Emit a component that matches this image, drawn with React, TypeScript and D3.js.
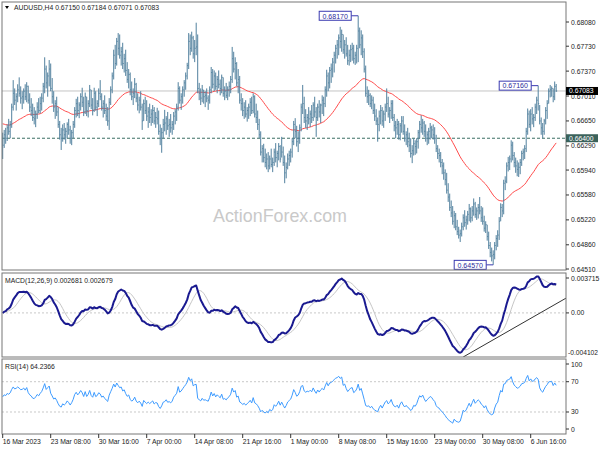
import React from 'react';
import * as d3 from 'd3';

// ---- data ----
const symbolTitle = 'AUDUSD,H4';
const lastOHLC = ['0.67150', '0.67184', '0.67071', '0.67083'];

const highs = [
  0.6648,0.6652,0.6655,0.6660,0.6668,0.6665,0.6690,0.6724,0.6712,0.6705,
  0.6718,0.6728,0.6715,0.6708,0.6712,0.6718,0.6721,0.6716,0.6705,0.6698,
  0.6690,0.6685,0.6680,0.6692,0.6698,0.6700,0.6705,0.6720,0.6757,0.6745,
  0.6735,0.6753,0.6748,0.6727,0.6708,0.6695,0.6700,0.6685,0.6665,0.6655,
  0.6660,0.6662,0.6655,0.6663,0.6668,0.6658,0.6652,0.6665,0.6685,0.6697,
  0.6700,0.6692,0.6705,0.6713,0.6700,0.6706,0.6700,0.6695,0.6717,0.6710,
  0.6698,0.6713,0.6708,0.6695,0.6712,0.6724,0.6705,0.6695,0.6702,0.6690,
  0.6685,0.6698,0.6715,0.6735,0.6768,0.6775,0.6785,0.6792,0.6790,0.6772,
  0.6778,0.6762,0.6768,0.6750,0.6740,0.6735,0.6722,0.6712,0.6727,0.6720,
  0.6705,0.6700,0.6708,0.6690,0.6696,0.6700,0.6695,0.6685,0.6690,0.6682,
  0.6688,0.6685,0.6678,0.6684,0.6680,0.6660,0.6655,0.6668,0.6681,0.6672,
  0.6678,0.6668,0.6675,0.6665,0.6678,0.6682,0.6690,0.6721,0.6715,0.6705,
  0.6715,0.6724,0.6735,0.6749,0.6792,0.6790,0.6794,0.6788,0.6782,0.6807,
  0.6790,0.6720,0.6712,0.6717,0.6710,0.6708,0.6712,0.6702,0.6715,0.6743,
  0.6740,0.6738,0.6735,0.6730,0.6738,0.6725,0.6732,0.6728,0.6715,0.6720,
  0.6715,0.6722,0.6730,0.6772,0.6765,0.6757,0.6750,0.6740,0.6730,0.6705,
  0.6698,0.6692,0.6695,0.6685,0.6690,0.6698,0.6700,0.6705,0.6702,0.6690,
  0.6680,0.6668,0.6650,0.6630,0.6632,0.6625,0.6618,0.6620,0.6615,0.6625,
  0.6612,0.6625,0.6633,0.6622,0.6633,0.6630,0.6642,0.6628,0.6615,0.6605,
  0.6618,0.6622,0.6625,0.6640,0.6665,0.6669,0.6658,0.6650,0.6660,0.6690,
  0.6717,0.6700,0.6682,0.6675,0.6685,0.6680,0.6688,0.6692,0.6700,0.6685,
  0.6690,0.6695,0.6690,0.6702,0.6700,0.6715,0.6739,0.6735,0.6743,0.6748,
  0.6756,0.6765,0.6775,0.6782,0.6790,0.6801,0.6797,0.6790,0.6782,0.6786,
  0.6775,0.6768,0.6775,0.6778,0.6775,0.6765,0.6775,0.6817,0.6800,0.6796,
  0.6790,0.6770,0.6745,0.6715,0.6710,0.6705,0.6702,0.6700,0.6690,0.6682,
  0.6670,0.6680,0.6688,0.6685,0.6680,0.6690,0.6712,0.6700,0.6685,0.6695,
  0.6695,0.6675,0.6665,0.6668,0.6665,0.6662,0.6672,0.6672,0.6660,0.6650,
  0.6655,0.6648,0.6640,0.6630,0.6640,0.6637,0.6640,0.6652,0.6665,0.6673,
  0.6668,0.6665,0.6660,0.6650,0.6655,0.6662,0.6658,0.6660,0.6656,0.6645,
  0.6630,0.6625,0.6620,0.6610,0.6605,0.6595,0.6590,0.6575,0.6560,0.6550,
  0.6542,0.6535,0.6532,0.6522,0.6512,0.6508,0.6518,0.6530,0.6536,0.6528,
  0.6535,0.6545,0.6540,0.6542,0.6553,0.6548,0.6540,0.6545,0.6555,0.6542,
  0.6540,0.6528,0.6520,0.6515,0.6505,0.6490,0.6482,0.6478,0.6490,0.6500,
  0.6507,0.6526,0.6546,0.6545,0.6580,0.6585,0.6605,0.6613,0.6615,0.6637,
  0.6635,0.6620,0.6612,0.6608,0.6605,0.6610,0.6622,0.6625,0.6630,0.6655,
  0.6683,0.6680,0.6682,0.6685,0.6675,0.6690,0.6700,0.6716,0.6688,0.6670,
  0.6662,0.6668,0.6685,0.6695,0.6712,0.6717,0.6715,0.6712,0.6722,0.67184,
];

const lows = [
  0.6610,0.6626,0.6632,0.6636,0.6645,0.6640,0.6655,0.6680,0.6688,0.6680,
  0.6692,0.6700,0.6690,0.6682,0.6690,0.6695,0.6692,0.6690,0.6678,0.6672,
  0.6665,0.6660,0.6656,0.6668,0.6676,0.6676,0.6680,0.6692,0.6705,0.6712,
  0.6700,0.6715,0.6708,0.6690,0.6678,0.6668,0.6672,0.6655,0.6638,0.6623,
  0.6635,0.6638,0.6632,0.6640,0.6645,0.6632,0.6630,0.6640,0.6655,0.6670,
  0.6672,0.6669,0.6680,0.6685,0.6672,0.6675,0.6672,0.6670,0.6685,0.6682,
  0.6673,0.6678,0.6680,0.6672,0.6685,0.6695,0.6680,0.6670,0.6675,0.6665,
  0.6658,0.6652,0.6688,0.6705,0.6725,0.6740,0.6745,0.6760,0.6755,0.6745,
  0.6740,0.6735,0.6730,0.6720,0.6712,0.6702,0.6695,0.6688,0.6698,0.6692,
  0.6680,0.6676,0.6680,0.6652,0.6665,0.6675,0.6665,0.6655,0.6662,0.6658,
  0.6662,0.6660,0.6655,0.6660,0.6645,0.6630,0.6619,0.6640,0.6650,0.6645,
  0.6652,0.6642,0.6648,0.6645,0.6652,0.6660,0.6665,0.6680,0.6690,0.6681,
  0.6690,0.6700,0.6710,0.6725,0.6740,0.6760,0.6765,0.6755,0.6750,0.6760,
  0.6705,0.6695,0.6688,0.6692,0.6690,0.6685,0.6692,0.6681,0.6690,0.6705,
  0.6712,0.6708,0.6710,0.6705,0.6712,0.6702,0.6705,0.6700,0.6695,0.6698,
  0.6695,0.6700,0.6705,0.6720,0.6735,0.6725,0.6715,0.6705,0.6690,0.6680,
  0.6672,0.6668,0.6670,0.6664,0.6668,0.6672,0.6675,0.6676,0.6670,0.6662,
  0.6652,0.6640,0.6615,0.6605,0.6605,0.6598,0.6595,0.6591,0.6595,0.6598,
  0.6591,0.6600,0.6605,0.6598,0.6608,0.6605,0.6612,0.6600,0.6575,0.6582,
  0.6595,0.6600,0.6605,0.6612,0.6630,0.6640,0.6628,0.6620,0.6632,0.6650,
  0.6675,0.6662,0.6655,0.6652,0.6660,0.6656,0.6662,0.6665,0.6670,0.6642,
  0.6665,0.6670,0.6662,0.6675,0.6672,0.6685,0.6700,0.6708,0.6712,0.6720,
  0.6728,0.6735,0.6748,0.6755,0.6760,0.6770,0.6765,0.6762,0.6755,0.6758,
  0.6746,0.6745,0.6750,0.6752,0.6748,0.6746,0.6748,0.6750,0.6770,0.6760,
  0.6756,0.6735,0.6700,0.6691,0.6688,0.6685,0.6682,0.6675,0.6665,0.6659,
  0.6635,0.6650,0.6660,0.6658,0.6655,0.6665,0.6678,0.6670,0.6662,0.6668,
  0.6665,0.6650,0.6640,0.6645,0.6638,0.6637,0.6648,0.6645,0.6635,0.6630,
  0.6627,0.6620,0.6612,0.6604,0.6615,0.6616,0.6618,0.6625,0.6640,0.6648,
  0.6645,0.6642,0.6635,0.6630,0.6632,0.6638,0.6640,0.6638,0.6632,0.6620,
  0.6610,0.6605,0.6598,0.6588,0.6580,0.6572,0.6560,0.6548,0.6535,0.6526,
  0.6515,0.6510,0.6507,0.6500,0.6495,0.6490,0.6498,0.6507,0.6512,0.6508,
  0.6515,0.6520,0.6518,0.6520,0.6528,0.6525,0.6522,0.6524,0.6530,0.6519,
  0.6515,0.6505,0.6503,0.6492,0.6480,0.6468,0.6462,0.6457,0.6465,0.6478,
  0.6483,0.6493,0.6520,0.6526,0.6530,0.6565,0.6575,0.6592,0.6594,0.6605,
  0.6608,0.6598,0.6590,0.6585,0.6584,0.6588,0.6600,0.6608,0.6610,0.6620,
  0.6645,0.6655,0.6650,0.6660,0.6656,0.6665,0.6675,0.6680,0.6660,0.6645,
  0.6640,0.6645,0.6660,0.6668,0.6690,0.6699,0.6700,0.6692,0.6695,0.67071,
];

const closes = [
  0.6630,0.6645,0.6640,0.6655,0.6650,0.6660,0.6685,0.6705,0.6695,0.6700,
  0.6710,0.6705,0.6698,0.6700,0.6708,0.6700,0.6715,0.6695,0.6685,0.6680,
  0.6670,0.6668,0.6675,0.6685,0.6680,0.6690,0.6698,0.6715,0.6740,0.6720,
  0.6730,0.6740,0.6712,0.6700,0.6685,0.6690,0.6678,0.6660,0.6645,0.6640,
  0.6652,0.6645,0.6650,0.6660,0.6652,0.6640,0.6648,0.6660,0.6680,0.6690,
  0.6680,0.6688,0.6700,0.6692,0.6678,0.6700,0.6680,0.6690,0.6710,0.6688,
  0.6680,0.6705,0.6685,0.6690,0.6705,0.6700,0.6685,0.6690,0.6680,0.6672,
  0.6665,0.6692,0.6710,0.6730,0.6760,0.6748,0.6780,0.6770,0.6760,0.6765,
  0.6748,0.6755,0.6738,0.6725,0.6732,0.6710,0.6700,0.6705,0.6718,0.6698,
  0.6688,0.6695,0.6685,0.6665,0.6690,0.6680,0.6672,0.6678,0.6670,0.6675,
  0.6680,0.6665,0.6670,0.6668,0.6650,0.6640,0.6648,0.6660,0.6662,0.6668,
  0.6658,0.6660,0.6655,0.6660,0.6672,0.6678,0.6685,0.6712,0.6695,0.6700,
  0.6710,0.6720,0.6730,0.6745,0.6780,0.6770,0.6785,0.6762,0.6770,0.6772,
  0.6712,0.6705,0.6698,0.6710,0.6700,0.6702,0.6698,0.6695,0.6710,0.6735,
  0.6718,0.6730,0.6715,0.6725,0.6718,0.6712,0.6728,0.6705,0.6708,0.6702,
  0.6710,0.6715,0.6725,0.6755,0.6740,0.6748,0.6720,0.6725,0.6695,0.6690,
  0.6680,0.6685,0.6675,0.6680,0.6685,0.6692,0.6680,0.6700,0.6675,0.6670,
  0.6660,0.6645,0.6620,0.6625,0.6612,0.6605,0.6610,0.6600,0.6610,0.6602,
  0.6605,0.6620,0.6612,0.6618,0.6628,0.6610,0.6620,0.6605,0.6590,0.6598,
  0.6610,0.6615,0.6620,0.6635,0.6660,0.6650,0.6635,0.6640,0.6655,0.6685,
  0.6690,0.6670,0.6665,0.6670,0.6668,0.6675,0.6670,0.6688,0.6678,0.6670,
  0.6685,0.6678,0.6688,0.6695,0.6690,0.6710,0.6730,0.6720,0.6738,0.6740,
  0.6750,0.6760,0.6770,0.6775,0.6785,0.6780,0.6790,0.6768,0.6775,0.6762,
  0.6752,0.6760,0.6768,0.6770,0.6755,0.6760,0.6770,0.6795,0.6775,0.6785,
  0.6765,0.6740,0.6705,0.6700,0.6702,0.6690,0.6695,0.6680,0.6672,0.6665,
  0.6660,0.6672,0.6680,0.6665,0.6675,0.6685,0.6690,0.6675,0.6680,0.6690,
  0.6670,0.6658,0.6655,0.6660,0.6645,0.6658,0.6665,0.6650,0.6640,0.6645,
  0.6635,0.6630,0.6618,0.6622,0.6632,0.6628,0.6635,0.6648,0.6660,0.6655,
  0.6662,0.6650,0.6640,0.6645,0.6650,0.6655,0.6652,0.6645,0.6640,0.6625,
  0.6618,0.6615,0.6605,0.6600,0.6590,0.6580,0.6565,0.6555,0.6540,0.6532,
  0.6520,0.6528,0.6512,0.6505,0.6500,0.6502,0.6512,0.6525,0.6518,0.6522,
  0.6530,0.6538,0.6525,0.6535,0.6545,0.6530,0.6535,0.6540,0.6535,0.6525,
  0.6520,0.6510,0.6515,0.6498,0.6485,0.6475,0.6470,0.6472,0.6485,0.6495,
  0.6500,0.6520,0.6540,0.6535,0.6575,0.6578,0.6600,0.6605,0.6610,0.6630,
  0.6615,0.6605,0.6600,0.6595,0.6598,0.6605,0.6618,0.6620,0.6625,0.6650,
  0.6675,0.6660,0.6675,0.6668,0.6670,0.6685,0.6695,0.6690,0.6665,0.6655,
  0.6650,0.6665,0.6680,0.6690,0.6708,0.6710,0.6712,0.6700,0.6715,0.67083,
];

const timeLabels = [
  '16 Mar 2023', '23 Mar 08:00', '30 Mar 16:00', '7 Apr 00:00', '14 Apr 08:00', '21 Apr 16:00',
  '1 May 00:00', '8 May 08:00', '15 May 16:00', '23 May 00:00', '30 May 08:00', '6 Jun 16:00',
];
const barsPerLabel = 32;

const priceTicks = [0.6808, 0.6773, 0.6737, 0.6701, 0.6665, 0.6629, 0.6594, 0.6558, 0.6522, 0.6486, 0.6451];
const macdTicks = [0.003715, 0, -0.004102];
const macdTickLabels = ['0.003715', '0.00', '-0.004102'];
const rsiTicks = [100, 70, 30, 0];
const rsiLevels = [70, 30];

const lastPrice = 0.67083;
const supportLevel = 0.664;
const priceMarks = [
  { bar: 237, value: 0.6817, label: '0.68170' },
  { bar: 357, value: 0.6716, label: '0.67160' },
  { bar: 327, value: 0.6457, label: '0.64570' },
];
const macdTrend = [
  { bar: 307, value: -0.004102 },
  { bar: 375.5, value: 0.00137 },
];
const maPeriod = 55;
const maSeed = 0.6662;
const macdTitle = 'MACD(12,26,9) 0.002681 0.002679';
const rsiTitle = 'RSI(14) 64.2366';
const watermark = 'ActionForex.com';

// ---- indicator helpers ----
function ema(vals: number[], period: number, seed: number) {
  const k = 2 / (period + 1);
  let prev = seed;
  return vals.map((v) => (prev = prev + k * (v - prev)));
}

const FONT = '"Liberation Sans", Arial, sans-serif';

export default function App() {
  const n = closes.length;
  const L = 2, R = 566;
  const mainTop = 2, mainBot = 270;
  const macdTop = 273, macdBot = 357;
  const rsiTop = 359, rsiBot = 434;

  const x = d3.scaleLinear().domain([0, 1]).range([2.7, 4.2]);
  const yP = d3.scaleLinear().domain([0.6451, 0.6808]).range([269, 22]);
  const yM = d3.scaleLinear().domain([macdTicks[2], macdTicks[0]]).range([macdBot, macdTop]);
  const yR = d3.scaleLinear().domain([0, 100]).range([rsiBot + 0.7, rsiTop]);

  const ma = ema(closes, maPeriod, maSeed);
  const e12 = ema(closes, 12, closes[0]);
  const e26 = ema(closes, 26, closes[0]);
  const macd = e12.map((v, i) => v - e26[i]);
  const signal = macd.map((_, i) => d3.mean(macd.slice(Math.max(0, i - 8), i + 1)) as number);
  const diffs = closes.slice(1).map((c, i) => c - closes[i]);
  const seedAbs = d3.mean(diffs.slice(0, 14).map(Math.abs)) as number;
  let ag = seedAbs, al = seedAbs;
  const rsi = [50];
  diffs.forEach((d) => {
    ag = (ag * 13 + Math.max(d, 0)) / 14;
    al = (al * 13 + Math.max(-d, 0)) / 14;
    rsi.push(al === 0 ? 100 : 100 - 100 / (1 + ag / al));
  });

  const lineP = d3.line<number>().x((_, i) => x(i)).y((d) => yP(d));
  const lineM = d3.line<number>().x((_, i) => x(i)).y((d) => yM(d));
  const lineR = d3.line<number>().x((_, i) => x(i)).y((d) => yR(d));

  const axisText = { fontFamily: FONT, fontSize: 6.8, fill: '#222' } as const;
  const clampY = (y: number, lo: number, hi: number) => Math.max(lo + 5, Math.min(hi - 5, y));

  const idx = d3.range(n);
  const barColor = '#52819e';

  return (
    <svg width={600} height={450} style={{ position: 'absolute', left: 0, top: 0, background: '#fff' }}>
      <defs>
        <clipPath id="cMain"><rect x={L} y={mainTop} width={R - L} height={mainBot - mainTop} /></clipPath>
        <clipPath id="cMacd"><rect x={L} y={macdTop} width={R - L} height={macdBot - macdTop} /></clipPath>
        <clipPath id="cRsi"><rect x={L} y={rsiTop} width={R - L} height={rsiBot - rsiTop} /></clipPath>
      </defs>
      <rect x={0} y={0} width={600} height={450} fill="#fff" />

      {/* ---- main panel ---- */}
      <text x={213} y={222} fontFamily={FONT} fontSize={19} fill="#c9c9c9" textLength={134} lengthAdjust="spacingAndGlyphs">{watermark}</text>
      <g clipPath="url(#cMain)">
        <line x1={L} x2={R} y1={yP(lastPrice)} y2={yP(lastPrice)} stroke="#c4c4c4" strokeWidth={1} />
        <line x1={L} x2={R} y1={yP(supportLevel)} y2={yP(supportLevel)} stroke="#3b6e63" strokeWidth={1} strokeDasharray="3 2" />
        <path d={lineP(ma) || ''} fill="none" stroke="#ff4a4a" strokeWidth={1} />
        {idx.map((i) => (
          <g key={i}>
            <line x1={x(i)} x2={x(i)} y1={yP(highs[i])} y2={yP(lows[i])} stroke={barColor} strokeWidth={1} />
            <line x1={x(i)} x2={x(i) + 1} y1={yP(closes[i])} y2={yP(closes[i])} stroke={barColor} strokeWidth={1} />
          </g>
        ))}
        {priceMarks.map((m) => {
          const bx = x(m.bar);
          const yy = yP(m.value);
          const w = 32, h = 9;
          const right = bx - 7;
          return (
            <g key={m.label}>
              <line x1={right} x2={bx} y1={yy} y2={yy} stroke="#3a3ab0" strokeWidth={1} />
              <rect x={right - w} y={yy - h / 2} width={w} height={h} fill="#fff" stroke="#3a3ab0" strokeWidth={1} />
              <text x={right - w / 2} y={yy + 0.3} textAnchor="middle" dominantBaseline="central" fontFamily={FONT} fontSize={7} fill="#2a2a9a">{m.label}</text>
            </g>
          );
        })}
      </g>
      <rect x={L} y={mainTop} width={R - L} height={mainBot - mainTop} fill="none" stroke="#777" strokeWidth={1} />
      <path d="M5,6 L9,6 L7,9 Z" fill="#000" />
      <text x={14} y={10} {...axisText}>{symbolTitle + '  ' + lastOHLC.join(' ')}</text>
      {priceTicks.map((t) => (
        <g key={t}>
          <line x1={R} x2={R + 3} y1={yP(t)} y2={yP(t)} stroke="#333" />
          <text x={R + 5} y={yP(t)} dominantBaseline="central" {...axisText}>{t.toFixed(5)}</text>
        </g>
      ))}
      <rect x={R} y={yP(lastPrice) - 4} width={32} height={8} fill="#000" />
      <text x={R + 3} y={yP(lastPrice)} dominantBaseline="central" fontFamily={FONT} fontSize={6.8} fill="#fff">{lastPrice.toFixed(5)}</text>
      <rect x={R} y={yP(supportLevel) - 4} width={32} height={8} fill="#3b625b" />
      <text x={R + 3} y={yP(supportLevel)} dominantBaseline="central" fontFamily={FONT} fontSize={6.8} fill="#fff">{supportLevel.toFixed(5)}</text>

      {/* ---- MACD panel ---- */}
      <g clipPath="url(#cMacd)">
        <line x1={L} x2={R} y1={yM(0)} y2={yM(0)} stroke="#c8c8c8" strokeDasharray="2 2" />
        <path d={lineM(signal) || ''} fill="none" stroke="#c6c6c6" strokeWidth={1} />
        <path d={lineM(macd) || ''} fill="none" stroke="#1a1a90" strokeWidth={2} strokeLinejoin="round" />
        <line x1={x(macdTrend[0].bar)} y1={yM(macdTrend[0].value)} x2={x(macdTrend[1].bar)} y2={yM(macdTrend[1].value)} stroke="#333" strokeWidth={1} />
      </g>
      <rect x={L} y={macdTop} width={R - L} height={macdBot - macdTop} fill="none" stroke="#777" strokeWidth={1} />
      <text x={5} y={283} {...axisText}>{macdTitle}</text>
      {macdTicks.map((t, i) => {
        const yy = clampY(yM(t), macdTop, macdBot);
        const lab = macdTickLabels[i];
        const neg = lab.startsWith('-');
        return (
          <g key={t}>
            {!neg && <line x1={R} x2={R + 3} y1={yy} y2={yy} stroke="#333" />}
            <text x={neg ? R + 2 : R + 5} y={yy} dominantBaseline="central" {...axisText}
              textLength={neg ? 30 : undefined} lengthAdjust={neg ? 'spacingAndGlyphs' : undefined}>{lab}</text>
          </g>
        );
      })}

      {/* ---- RSI panel ---- */}
      <g clipPath="url(#cRsi)">
        {rsiLevels.map((lv) => (
          <line key={lv} x1={L} x2={R} y1={yR(lv)} y2={yR(lv)} stroke="#c8c8c8" strokeDasharray="2 2" />
        ))}
        <path d={lineR(rsi) || ''} fill="none" stroke="#3d9bff" strokeWidth={1} />
      </g>
      <rect x={L} y={rsiTop} width={R - L} height={rsiBot - rsiTop} fill="none" stroke="#777" strokeWidth={1} />
      <text x={5} y={369} {...axisText}>{rsiTitle}</text>
      {rsiTicks.map((t) => {
        const yy = clampY(yR(t), rsiTop, rsiBot);
        return (
          <g key={t}>
            <line x1={R} x2={R + 3} y1={yy} y2={yy} stroke="#333" />
            <text x={R + 5} y={yy} dominantBaseline="central" {...axisText}>{String(t)}</text>
          </g>
        );
      })}

      {/* ---- time axis ---- */}
      {timeLabels.map((lab, k) => {
        const xx = x(k * barsPerLabel);
        return (
          <g key={lab}>
            <line x1={xx} x2={xx} y1={rsiBot} y2={rsiBot + 4} stroke="#333" />
            <text x={xx} y={444} {...axisText}>{lab}</text>
          </g>
        );
      })}
    </svg>
  );
}
